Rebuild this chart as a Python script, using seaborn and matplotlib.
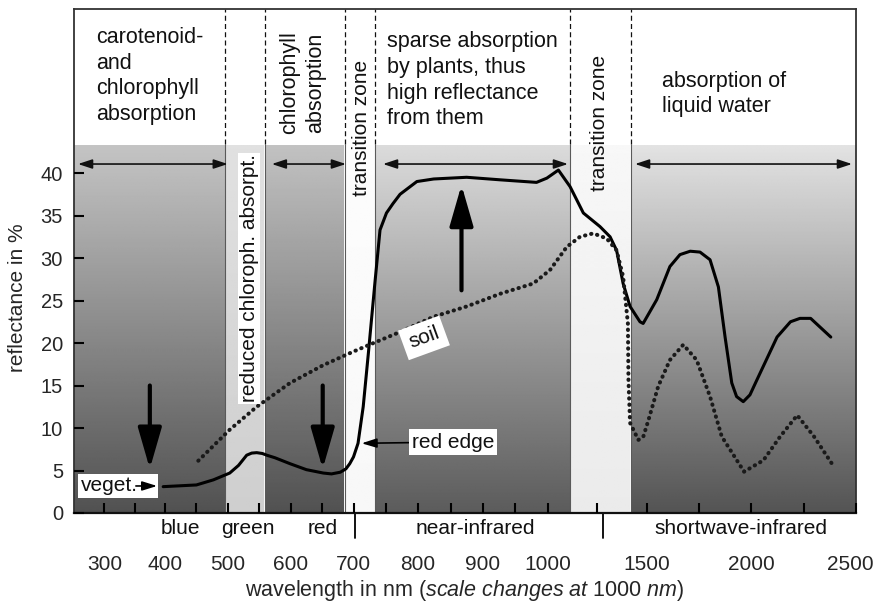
import numpy as np
import pandas as pd
import matplotlib
matplotlib.use("Agg")
import matplotlib.pyplot as plt
from matplotlib.patches import Rectangle
from matplotlib.transforms import ScaledTranslation
import seaborn as sns

# ---------------- data ----------------
veg_wavelength = [397, 450, 477, 503, 517, 530, 538, 546, 555, 562, 575, 599, 625, 652, 665,
                  679, 688, 694, 700, 707, 715,
                  723, 733, 741, 751, 761, 772, 798, 824, 875, 927, 983, 999, 1055, 1114,
                  1181, 1265, 1316, 1349, 1382, 1417, 1467, 1483, 1549, 1612, 1660, 1709, 1756,
                  1804, 1844, 1876, 1908, 1931, 1963, 1995, 2027, 2124, 2188, 2233, 2284, 2380]
veg_reflectance = [3.1, 3.3, 3.9, 4.7, 5.6, 6.8, 7.05, 7.1, 7.0, 6.8, 6.5, 5.8, 5.1, 4.7, 4.6,
                   4.8, 5.2, 5.8, 6.6, 8.2, 12.5,
                   18.8, 27.0, 33.3, 35.3, 36.4, 37.5, 39.0, 39.3, 39.5, 39.2, 38.9, 39.4, 40.35, 38.4,
                   35.3, 33.7, 32.5, 30.9, 27.0, 24.3, 22.5, 22.3, 25.1, 29.0, 30.4, 30.8, 30.7,
                   29.8, 26.6, 20.7, 15.3, 13.7, 13.1, 13.9, 15.6, 20.7, 22.5, 22.9, 22.9, 20.7]

soil_wavelength = [453, 503, 546, 599, 652, 700, 731, 772, 824, 875, 927, 978, 1013, 1097,
                   1164, 1231, 1299, 1349, 1382, 1406, 1409, 1417, 1459, 1484, 1509, 1556,
                   1612, 1676, 1740, 1804, 1860, 1967, 2059, 2139, 2220, 2300, 2396]
soil_reflectance = [6.15, 9.8, 12.5, 15.3, 17.4, 19.0, 20.0, 21.3, 23.1, 24.3, 25.8, 27.0, 28.6, 31.3,
                    32.5, 32.9, 32.3, 30.9, 27.8, 22.3, 15.6, 10.6, 8.6, 9.0, 10.9, 14.9,
                    18.0, 19.8, 18.0, 13.7, 9.0, 4.86, 6.2, 9.0, 11.5, 9.0, 5.4]

x_tick_values = [300, 400, 500, 600, 700, 800, 900, 1000, 1500, 2000, 2500]
x_tick_labels = ["300", "400", "500", "600", "700", "800", "900", "1000", "1500", "2000", "2500"]
x_minor_ticks = [350, 450, 550, 650, 750, 850, 950, 1250, 1750, 2250]
y_tick_values = [0, 5, 10, 15, 20, 25, 30, 35, 40]

band_labels = ["blue", "green", "red", "near-infrared", "shortwave-infrared"]
band_label_pos = [425, 532, 651, 889, 1952]
band_dividers = [702, 1280]

zone_edges = [496, 559, 686, 733, 1116, 1420]

# ---------------- style ----------------
sns.set_theme(style="ticks")
plt.rcParams['font.family'] = ['Liberation Sans', 'DejaVu Sans']
plt.rcParams['mathtext.fontset'] = 'custom'
plt.rcParams['mathtext.rm'] = 'Liberation Sans'
plt.rcParams['mathtext.it'] = 'Liberation Sans:italic'
plt.rcParams['text.color'] = '#111111'

# piecewise wavelength scale ("scale changes at 1000 nm")
SC_W = np.array([250, 400, 700, 1000, 1500, 2000, 2500], float)
SC_P = np.array([74, 165, 353.5, 547.5, 646.5, 751, 856], float)


def _fwd(x):
    x = np.asarray(x, float)
    y = np.interp(x, SC_W, SC_P)
    s0 = (SC_P[1] - SC_P[0]) / (SC_W[1] - SC_W[0])
    s1 = (SC_P[-1] - SC_P[-2]) / (SC_W[-1] - SC_W[-2])
    y = np.where(x < SC_W[0], SC_P[0] + (x - SC_W[0]) * s0, y)
    y = np.where(x > SC_W[-1], SC_P[-1] + (x - SC_W[-1]) * s1, y)
    return y


def _inv(p):
    p = np.asarray(p, float)
    x = np.interp(p, SC_P, SC_W)
    s0 = (SC_W[1] - SC_W[0]) / (SC_P[1] - SC_P[0])
    s1 = (SC_W[-1] - SC_W[-2]) / (SC_P[-1] - SC_P[-2])
    x = np.where(p < SC_P[0], SC_W[0] + (p - SC_P[0]) * s0, x)
    x = np.where(p > SC_P[-1], SC_W[-1] + (p - SC_P[-1]) * s1, x)
    return x


fig = plt.figure(figsize=(8.74, 6.03), dpi=100)
ax = fig.add_axes([74 / 874, 1 - 513 / 603, 782 / 874, 504 / 603])
ax.set_xscale('function', functions=(_fwd, _inv))
ax.set_axisbelow(False)

SHADE_TOP = 43.4
YMAX = 59.3

# gray gradient background regions (x0, x1, top gray, bottom gray)
regions = [
    (250, 496, 0.77, 0.32),
    (496, 559, 0.88, 0.81),
    (559, 686, 0.76, 0.32),
    (686, 733, 0.99, 0.97),
    (733, 1116, 0.86, 0.36),
    (1116, 1420, 0.97, 0.92),
    (1420, 2500, 0.89, 0.33),
]
for x0, x1, top, bot in regions:
    grad = np.linspace(bot, top, 256)[:, None]
    ax.imshow(grad, extent=[x0, x1, 0, SHADE_TOP], origin='lower', cmap='gray',
              vmin=0, vmax=1, aspect='auto', interpolation='bilinear', zorder=0)

ax.vlines(zone_edges, 0, SHADE_TOP, colors='#5a5a5a', lw=0.8, zorder=1)
ax.vlines(zone_edges, SHADE_TOP, YMAX, colors='#111111', lw=0.9,
          linestyles=[(0, (4, 2.6))], zorder=1)

# ---------------- curves ----------------
veg_df = pd.DataFrame({'wavelength': veg_wavelength, 'reflectance': veg_reflectance})
soil_df = pd.DataFrame({'wavelength': soil_wavelength, 'reflectance': soil_reflectance})
sns.lineplot(data=veg_df, x='wavelength', y='reflectance', ax=ax, color='black',
             linewidth=2.2, sort=False, estimator=None, zorder=5,
             solid_joinstyle='round')
sns.lineplot(data=soil_df, x='wavelength', y='reflectance', ax=ax, color='#1a1a1a',
             linewidth=2.9, linestyle=(0, (0.1, 1.45)), dash_capstyle='round',
             sort=False, estimator=None, zorder=5)

# ---------------- arrows ----------------
big = dict(arrowstyle='-|>,head_length=1.25,head_width=0.36', lw=3, color='black',
           mutation_scale=20, shrinkA=0, shrinkB=0)
ax.annotate('', xy=(375, 5.2), xytext=(375, 15.0), arrowprops=big, zorder=6)
ax.annotate('', xy=(651, 5.2), xytext=(651, 15.0), arrowprops=big, zorder=6)
ax.annotate('', xy=(867, 38.6), xytext=(867, 26.2), arrowprops=big, zorder=6)

dbl = dict(arrowstyle='<|-|>,head_length=0.85,head_width=0.28', lw=1.2, color='#111111',
           mutation_scale=10, shrinkA=0, shrinkB=0)
for a, b in [(256.6, 500), (570, 688), (745.6, 1103.5), (1442, 2481)]:
    ax.annotate('', xy=(b, 41.06), xytext=(a, 41.06), arrowprops=dbl, zorder=6)

# ---------------- labels in plot ----------------
FS = 15
ax.annotate('red edge', xy=(712.6, 8.2), xytext=(790, 8.35), ha='left', va='center',
            fontsize=FS, zorder=7,
            bbox=dict(boxstyle='square,pad=0.15', fc='white', ec='none'),
            arrowprops=dict(arrowstyle='-|>,head_length=0.9,head_width=0.28', lw=1.2,
                            color='black', mutation_scale=10, shrinkA=0, shrinkB=0))

ax.add_patch(Rectangle((256.6, 1.76), 388.5 - 256.6, 4.59 - 1.76, fc='white', ec='none', zorder=6))
ax.text(261, 3.25, 'veget.', ha='left', va='center', fontsize=FS, zorder=7)
ax.annotate('', xy=(387, 3.18), xytext=(352, 3.18), zorder=7,
            arrowprops=dict(arrowstyle='-|>,head_length=0.9,head_width=0.28', lw=1.2,
                            color='black', mutation_scale=10, shrinkA=0, shrinkB=0))

ax.text(809, 20.6, 'soil', rotation=20, ha='center', va='center', rotation_mode='anchor',
        fontsize=FS, zorder=7, bbox=dict(boxstyle='square,pad=0.3', fc='white', ec='none'))

ax.text(533.7, 27.6, 'reduced chloroph. absorpt.', rotation=90, ha='center', va='center',
        fontsize=FS, zorder=7, bbox=dict(boxstyle='square,pad=0.08', fc='white', ec='none'))

LS = 1.29
ax.text(287, 51.4, 'carotenoid-\nand\nchlorophyll\nabsorption', ha='left', va='center',
        fontsize=15.5, linespacing=LS)
ax.text(619, 50.65, 'chlorophyll\nabsorption', rotation=90, ha='center', va='center',
        multialignment='center', fontsize=15.5, linespacing=LS)
ax.text(712.6, 45.35, 'transition zone', rotation=90, ha='center', va='center', fontsize=FS)
ax.text(752, 50.9, 'sparse absorption\nby plants, thus\nhigh reflectance\nfrom them',
        ha='left', va='center', fontsize=15.5, linespacing=LS)
ax.text(1261, 45.85, 'transition zone', rotation=90, ha='center', va='center', fontsize=FS)
ax.text(1574, 49.3, 'absorption of\nliquid water', ha='left', va='center',
        fontsize=15.5, linespacing=LS)

# ---------------- axes ----------------
ax.set_xlim(250, 2500)
ax.set_ylim(0, YMAX)
ax.set_xticks(x_tick_values)
ax.set_xticklabels(x_tick_labels)
ax.set_xticks(x_minor_ticks, minor=True)
ax.set_yticks(y_tick_values)
ax.tick_params(axis='x', which='both', direction='in', length=7, width=1.5, color='black',
               labelsize=15, pad=30, bottom=True, top=False)
ax.tick_params(axis='x', which='minor', labelbottom=False)
ax.tick_params(axis='y', direction='in', length=7, width=1.5, color='black',
               labelsize=14.5, pad=8, left=True, right=False)

# nudge the last tick label so it stays inside the figure
last = ax.get_xticklabels()[-1]
last.set_transform(last.get_transform() + ScaledTranslation(-6 / 100, 0, fig.dpi_scale_trans))

for s in ax.spines.values():
    s.set_color('#333333')
    s.set_linewidth(1.3)
    s.set_visible(True)
ax.spines['bottom'].set_color('#111111')
ax.spines['bottom'].set_linewidth(1.6)

trans = ax.get_xaxis_transform()
for lab, pos in zip(band_labels, band_label_pos):
    ax.text(pos, -0.03, lab, transform=trans, ha='center', va='center', fontsize=FS)
for d in band_dividers:
    ax.plot([d, d], [0, -0.05], transform=trans, color='black', lw=1.3, clip_on=False)

ax.set_xlabel(r'wavelength in nm ($\mathit{scale\ changes\ at\ 1000\ nm}$)', fontsize=15.5,
              va='center')
ax.xaxis.set_label_coords(0.5, -0.153)
ax.set_ylabel('reflectance in %', fontsize=FS, va='center')
ax.yaxis.set_label_coords(-0.072, 0.4266)

fig.savefig('out.png', dpi=100)
